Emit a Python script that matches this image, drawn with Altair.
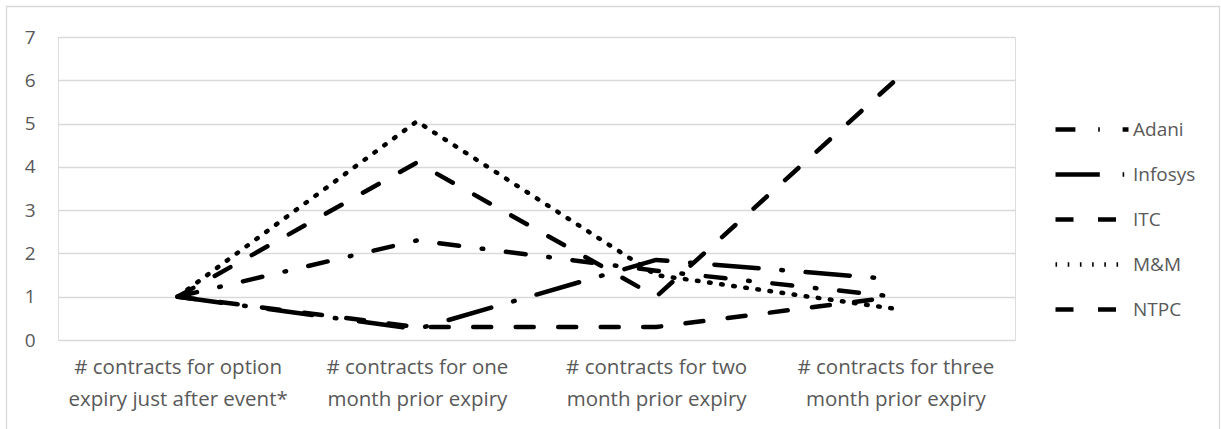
import altair as alt
import pandas as pd

# Category labels (line breaks mark the two-line axis labels)
categories = [
    "# contracts for option\nexpiry just after event*",
    "# contracts for one\nmonth prior expiry",
    "# contracts for two\nmonth prior expiry",
    "# contracts for three\nmonth prior expiry",
]

series_names = ["Adani", "Infosys", "ITC", "M&M", "NTPC"]

adani = [1.0, 2.3, 1.6, 1.0]
infosys = [1.0, 0.25, 1.85, 1.4]
itc = [1.0, 0.3, 0.3, 1.0]
mm = [1.0, 5.05, 1.5, 0.72]
ntpc = [1.0, 4.1, 1.0, 6.0]

y_ticks = [0, 1, 2, 3, 4, 5, 6, 7]

# Dash patterns per series: dash-dot, long dash-dot, dash, round dot, dash
dash_patterns = [
    [19.9, 22.8, 1.6, 22.8],
    [44.3, 22.8, 1.6, 22.8],
    [18, 24.5],
    [1.6, 10.6],
    [18, 24.5],
]

rows = []
for name, vals in zip(series_names, [adani, infosys, itc, mm, ntpc]):
    for cat, v in zip(categories, vals):
        rows.append({"series": name, "category": cat, "value": v})
df = pd.DataFrame(rows)

FONT = "Open Sans"
FS = 19
FS_X = 20.5
TEXT = "#595959"
GRID = "#D9D9D9"

W, H = 957, 303
LEFT, TOP = 58, 37

lines = alt.Chart(df).mark_line(
    strokeWidth=4.5, strokeCap="round", strokeJoin="round", color="black"
).encode(
    x=alt.X(
        "category:N",
        sort=categories,
        scale=alt.Scale(type="point", padding=0.5),
        axis=alt.Axis(
            title=None,
            labelExpr="split(datum.label, '\\n')",
            labelAngle=0,
            labelFont=FONT,
            labelFontSize=FS_X,
            labelColor=TEXT,
            labelLineHeight=32,
            labelBaseline="top",
            labelPadding=17,
            labelLimit=0,
            ticks=False,
            domain=False,
            grid=False,
        ),
    ),
    y=alt.Y(
        "value:Q",
        scale=alt.Scale(domain=[0, 7], nice=False, zero=True),
        axis=alt.Axis(
            title=None,
            values=y_ticks,
            labelFont=FONT,
            labelFontSize=FS,
            labelColor=TEXT,
            labelPadding=23,
            ticks=False,
            domain=False,
            grid=True,
            gridColor=GRID,
            gridWidth=1.3,
        ),
    ),
    strokeDash=alt.StrokeDash(
        "series:N",
        scale=alt.Scale(domain=series_names, range=dash_patterns),
        legend=alt.Legend(
            title=None,
            orient="none",
            legendX=995,
            legendY=75,
            symbolType="stroke",
            symbolSize=73 * 73,
            symbolStrokeWidth=4.5,
            symbolStrokeColor="black",
            labelFont=FONT,
            labelFontSize=FS,
            labelColor=TEXT,
            labelOffset=2,
            clipHeight=35,
            rowPadding=10,
            padding=0,
        ),
    ),
    order=alt.Order("series:N"),
)

# Light frame around the whole chart area
frame = alt.Chart(pd.DataFrame({"f": [0]})).mark_rect(
    fill=None, stroke=GRID, strokeWidth=1.3
).encode(
    x=alt.value(6.5 - LEFT),
    x2=alt.value(1219.5 - LEFT),
    y=alt.value(6.5 - TOP),
    y2=alt.value(440 - TOP),
)

chart = alt.layer(frame, lines).properties(
    width=W,
    height=H,
    autosize=alt.AutoSizeParams(type="none"),
    padding={"left": LEFT, "top": TOP, "right": 1221 - LEFT - W, "bottom": 429 - TOP - H},
).configure_view(stroke=None).configure(background="white")

chart.save("out.html", embed_options={"renderer": "svg", "actions": False})
